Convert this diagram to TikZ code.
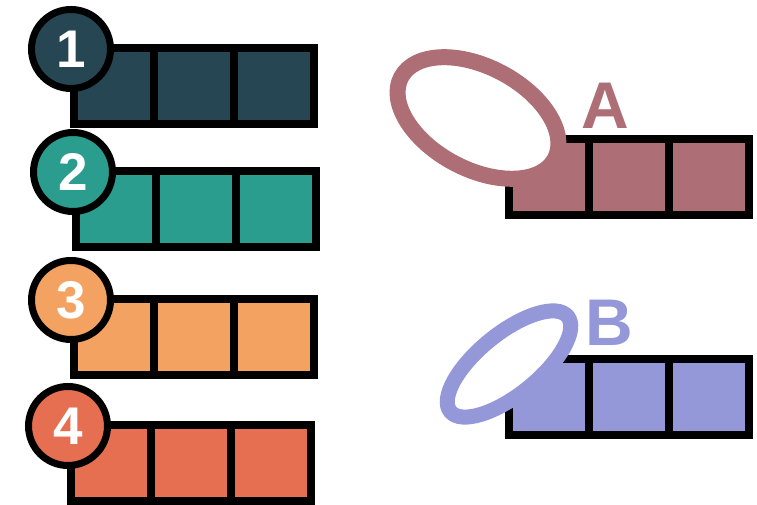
\documentclass[tikz,border=0pt]{standalone}
\usepackage{fontspec}
\setmainfont{Liberation Sans}
\usetikzlibrary{positioning, shapes.geometric}
\definecolor{DarkTeal}{HTML}{264653}
\definecolor{MediumTeal}{HTML}{2A9D8F}
\definecolor{SandyOrange}{HTML}{F4A261}
\definecolor{BurntOrange}{HTML}{E76F51}
\definecolor{DustyRose}{HTML}{AD6F75}
\definecolor{SoftViolet}{HTML}{9498D8}

\begin{document}
\begin{tikzpicture}[
    x=1pt, y=1pt,
    cell/.style={draw=black, line width=8pt, minimum width=80pt,
        minimum height=76pt, inner sep=0pt, outer sep=0pt},
    num/.style={circle, draw=black, line width=7pt, minimum size=79pt,
        inner sep=0pt, text=white, font=\fontsize{53}{53}\selectfont\bfseries},
    ring/.style={ellipse, fill=white, inner sep=0pt, outer sep=0pt},
    tag/.style={font=\fontsize{66}{66}\selectfont\bfseries},
]
\useasboundingbox (0,0) rectangle (757,505);

% filas numeradas
\foreach \i/\c/\x/\y in {1/DarkTeal/114/419, 2/MediumTeal/116/296,
                          3/SandyOrange/114/168, 4/BurntOrange/111/42} {
    \node[cell, fill=\c] (row\i-a) at (\x,\y) {};
    \node[cell, fill=\c, right=0pt of row\i-a] (row\i-b) {};
    \node[cell, fill=\c, right=0pt of row\i-b] (row\i-c) {};
    \node[num, fill=\c] (num\i) at ([shift={(-3,-1)}]row\i-a.north west) {\i};
}

% fila A
\node[cell, fill=DustyRose] (rowA-a) at (549,328) {};
\node[cell, fill=DustyRose, right=0pt of rowA-a] (rowA-b) {};
\node[cell, fill=DustyRose, right=0pt of rowA-b] (rowA-c) {};
\node[ring, draw=DustyRose, line width=16pt, minimum width=174pt,
      minimum height=102pt, rotate=-28] (ringA) at (478,387) {};
\node[tag, text=DustyRose] (tagA) at (605,399) {A};

% fila B
\node[cell, fill=SoftViolet] (rowB-a) at (549,108) {};
\node[cell, fill=SoftViolet, right=0pt of rowB-a] (rowB-b) {};
\node[cell, fill=SoftViolet, right=0pt of rowB-b] (rowB-c) {};
\node[ring, draw=SoftViolet, line width=15pt, minimum width=151pt,
      minimum height=61pt, rotate=39] (ringB) at (509,141) {};
\node[tag, text=SoftViolet] (tagB) at (609,182) {B};

\end{tikzpicture}
\end{document}
